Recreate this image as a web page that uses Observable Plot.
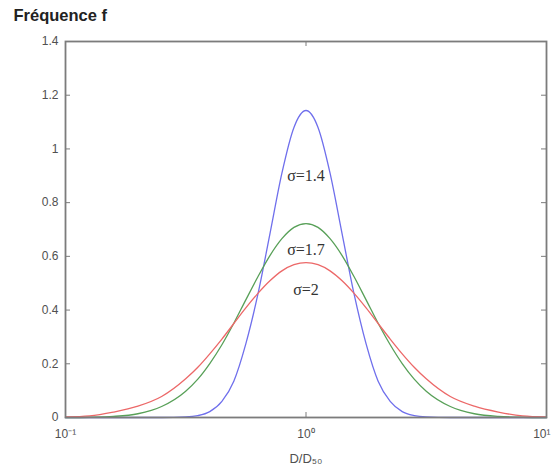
<!DOCTYPE html>
<html><head><meta charset="utf-8">
<script src="https://cdn.jsdelivr.net/npm/d3@7"></script>
<script src="https://cdn.jsdelivr.net/npm/@observablehq/plot@0.6"></script>
<style>body{margin:0;background:#fff}</style>
</head><body><div id="chart"></div>
<script>
const ratio = [0.1, 0.126, 0.158, 0.2, 0.251, 0.316, 0.355, 0.398, 0.447, 0.501, 0.562, 0.631, 0.708, 0.794, 0.891, 1, 1.122, 1.259, 1.413, 1.585, 1.778, 1.995, 2.239, 2.512, 2.818, 3.162, 3.981, 5.012, 6.31, 7.943, 10];
const sigma14 = [0, 0, 0, 0, 0, 0.002, 0.007, 0.022, 0.060, 0.135, 0.274, 0.459, 0.684, 0.910, 1.080, 1.143, 1.080, 0.910, 0.684, 0.459, 0.274, 0.135, 0.060, 0.022, 0.007, 0.002, 0, 0, 0, 0, 0];
const sigma17 = [0, 0.001, 0.004, 0.014, 0.041, 0.098, 0.143, 0.201, 0.271, 0.351, 0.438, 0.524, 0.603, 0.666, 0.708, 0.722, 0.708, 0.666, 0.603, 0.524, 0.438, 0.351, 0.271, 0.201, 0.143, 0.098, 0.041, 0.014, 0.004, 0.001, 0];
const sigma2 = [0.002, 0.006, 0.020, 0.042, 0.078, 0.144, 0.187, 0.237, 0.292, 0.350, 0.408, 0.462, 0.509, 0.546, 0.569, 0.577, 0.569, 0.546, 0.509, 0.462, 0.408, 0.350, 0.292, 0.237, 0.187, 0.144, 0.078, 0.042, 0.020, 0.006, 0.002];
const seriesNames = ["σ=1.4", "σ=1.7", "σ=2"];
const seriesColors = ["#6f6fec", "#58a058", "#ec6868"];
const labelY = [0.90, 0.625, 0.477];
const yTicks = [0, 0.2, 0.4, 0.6, 0.8, 1, 1.2, 1.4];
const yTickLabels = ["0", "0.2", "0.4", "0.6", "0.8", "1", "1.2", "1.4"];
const xTicks = [0.1, 1, 10];
const xTickLabels = ["10⁻¹", "10⁰", "10¹"];

const seriesValues = [sigma14, sigma17, sigma2];
const rows = seriesValues.flatMap((vals, s) => vals.map((v, i) => ({x: ratio[i], y: v, s: seriesNames[s]})));
const labels = seriesNames.map((n, i) => ({x: 1, y: labelY[i], t: n}));
const axisColor = "#7c7c7c";

const W = 551, H = 468, mL = 65, mR = 5, mT = 41, mB = 51;
const frameW = W - mL - mR, frameH = H - mT - mB, tickLen = 5;
const lastX = xTicks.length - 1;

const chart = Plot.plot({
  width: W,
  height: H,
  marginLeft: mL,
  marginRight: mR,
  marginTop: mT,
  marginBottom: mB,
  style: {fontFamily: "Liberation Sans, Arial, sans-serif", fontSize: "12px", color: "#505050", background: "#fff"},
  x: {type: "log", domain: [0.1, 10]},
  y: {domain: [0, 1.4]},
  marks: [
    ...seriesNames.map((n, i) => Plot.line(rows.filter(d => d.s === n), {x: "x", y: "y", stroke: seriesColors[i], strokeWidth: 1.3, curve: "monotone-x"})),
    Plot.tickY(yTicks, {y: d => d, insetRight: frameW - tickLen, stroke: axisColor, strokeWidth: 1}),
    Plot.tickY(yTicks, {y: d => d, insetLeft: frameW - tickLen, stroke: axisColor, strokeWidth: 1}),
    Plot.tickX(xTicks, {x: d => d, insetTop: frameH - tickLen, stroke: axisColor, strokeWidth: 1}),
    Plot.tickX(xTicks, {x: d => d, insetBottom: frameH - tickLen, stroke: axisColor, strokeWidth: 1}),
    Plot.frame({stroke: axisColor, strokeWidth: 1.8}),
    Plot.axisY({anchor: "left", ticks: yTicks, tickFormat: d => yTickLabels[yTicks.indexOf(d)], tickSize: 0, tickPadding: 7, label: null, fontSize: 12}),
    Plot.axisX({anchor: "bottom", ticks: xTicks.slice(0, lastX), tickFormat: d => xTickLabels[xTicks.indexOf(d)], tickSize: 0, tickPadding: 12, label: null, fontSize: 12}),
    Plot.text([xTicks[lastX]], {x: d => d, frameAnchor: "bottom", text: () => xTickLabels[lastX], textAnchor: "end", lineAnchor: "top", dx: 4, dy: 12, fontSize: 12, fill: "#505050"}),
    Plot.text(labels, {x: "x", y: "y", text: "t", fontFamily: "Liberation Serif, Times New Roman, serif", fontSize: 16, fill: "#333"}),
    Plot.text(["Fréquence f"], {frameAnchor: "top-left", dx: -52, dy: -26, textAnchor: "start", lineAnchor: "middle", fontWeight: "bold", fontSize: 16.5, fill: "#222"}),
    Plot.text(["D/D₅₀"], {frameAnchor: "bottom", dy: 41, lineAnchor: "middle", fontSize: 13, fill: "#505050"})
  ]
});
document.getElementById("chart").appendChild(chart);
</script>
</body></html>
